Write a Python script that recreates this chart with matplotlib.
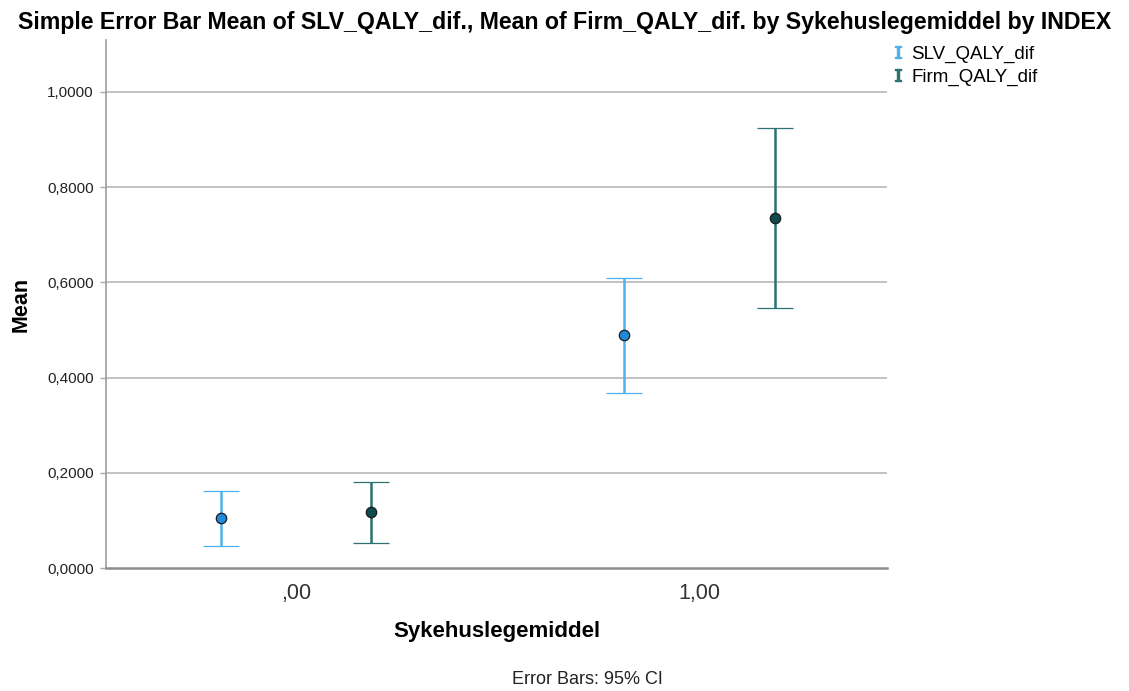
import matplotlib
matplotlib.use("Agg")
import matplotlib.pyplot as plt
from matplotlib.lines import Line2D
import numpy as np

plt.rcParams['font.family'] = ['Liberation Sans', 'DejaVu Sans']

categories = [",00", "1,00"]
series = ["SLV_QALY_dif", "Firm_QALY_dif"]
means = {
    "SLV_QALY_dif": [0.105, 0.489],
    "Firm_QALY_dif": [0.118, 0.735],
}
ci_low = {
    "SLV_QALY_dif": [0.046, 0.368],
    "Firm_QALY_dif": [0.053, 0.546],
}
ci_high = {
    "SLV_QALY_dif": [0.162, 0.609],
    "Firm_QALY_dif": [0.181, 0.924],
}
y_ticks = [0.0, 0.2, 0.4, 0.6, 0.8, 1.0]

line_colors = {"SLV_QALY_dif": "#4DB2EC", "Firm_QALY_dif": "#2B7373"}
face_colors = {"SLV_QALY_dif": "#1F8AD9", "Firm_QALY_dif": "#0E4C4C"}
offsets = {"SLV_QALY_dif": -0.187, "Firm_QALY_dif": 0.187}

fig = plt.figure(figsize=(11.29, 6.91), dpi=100)
ax = fig.add_axes([0.0939, 0.178, 0.692, 0.764])

x = np.arange(len(categories))
for s in series:
    m = np.array(means[s])
    lo = m - np.array(ci_low[s])
    hi = np.array(ci_high[s]) - m
    ax.errorbar(x + offsets[s], m, yerr=[lo, hi], fmt='o',
                color=line_colors[s], ecolor=line_colors[s],
                elinewidth=1.8, capsize=13, capthick=2.2,
                markersize=7.5, markerfacecolor=face_colors[s],
                markeredgecolor="#1A1A1A", markeredgewidth=0.9, zorder=3)

ax.set_xlim(-0.471, 1.466)
ax.set_ylim(0, 1.109)
ax.set_yticks(y_ticks)
ax.set_yticklabels([f"{v:.4f}".replace(".", ",") for v in y_ticks], fontsize=11)
ax.set_xticks(x)
ax.set_xticklabels(categories, fontsize=15.5)
ax.tick_params(axis='x', length=0, pad=11, colors="#333333")
ax.tick_params(axis='y', length=4, width=1, color="#AAAAAA", pad=5, labelcolor="#222222")

for v in y_ticks[1:]:
    ax.axhline(v, color="#BDBDBD", linewidth=1.3, zorder=1)

for side in ["top", "right"]:
    ax.spines[side].set_visible(False)
ax.spines["left"].set_color("#9E9E9E")
ax.spines["left"].set_linewidth(1.2)
ax.spines["bottom"].set_color("#8C8C8C")
ax.spines["bottom"].set_linewidth(1.8)

ax.set_ylabel("Mean", fontsize=15.5, fontweight="bold", labelpad=11)
ax.set_xlabel("Sykehuslegemiddel", fontsize=16, fontweight="bold", labelpad=12)

fig.text(0.5, 0.968,
         "Simple Error Bar Mean of SLV_QALY_dif., Mean of Firm_QALY_dif. by Sykehuslegemiddel by INDEX",
         ha="center", va="center", fontsize=16.7, fontweight="bold")
fig.text(0.52, 0.016, "Error Bars: 95% CI", ha="center", va="center", fontsize=13, color="#222222")

handles = [Line2D([], [], linestyle="none", marker=r"$\mathtt{I}$", markersize=9,
                  color=line_colors[s]) for s in series]
fig.legend(handles, series, loc="upper left", bbox_to_anchor=(0.782, 0.945),
           frameon=False, fontsize=13.5, handlelength=0.8, handletextpad=0.3,
           labelspacing=0.3, borderaxespad=0)

fig.savefig("out.png", dpi=100, facecolor="white")
